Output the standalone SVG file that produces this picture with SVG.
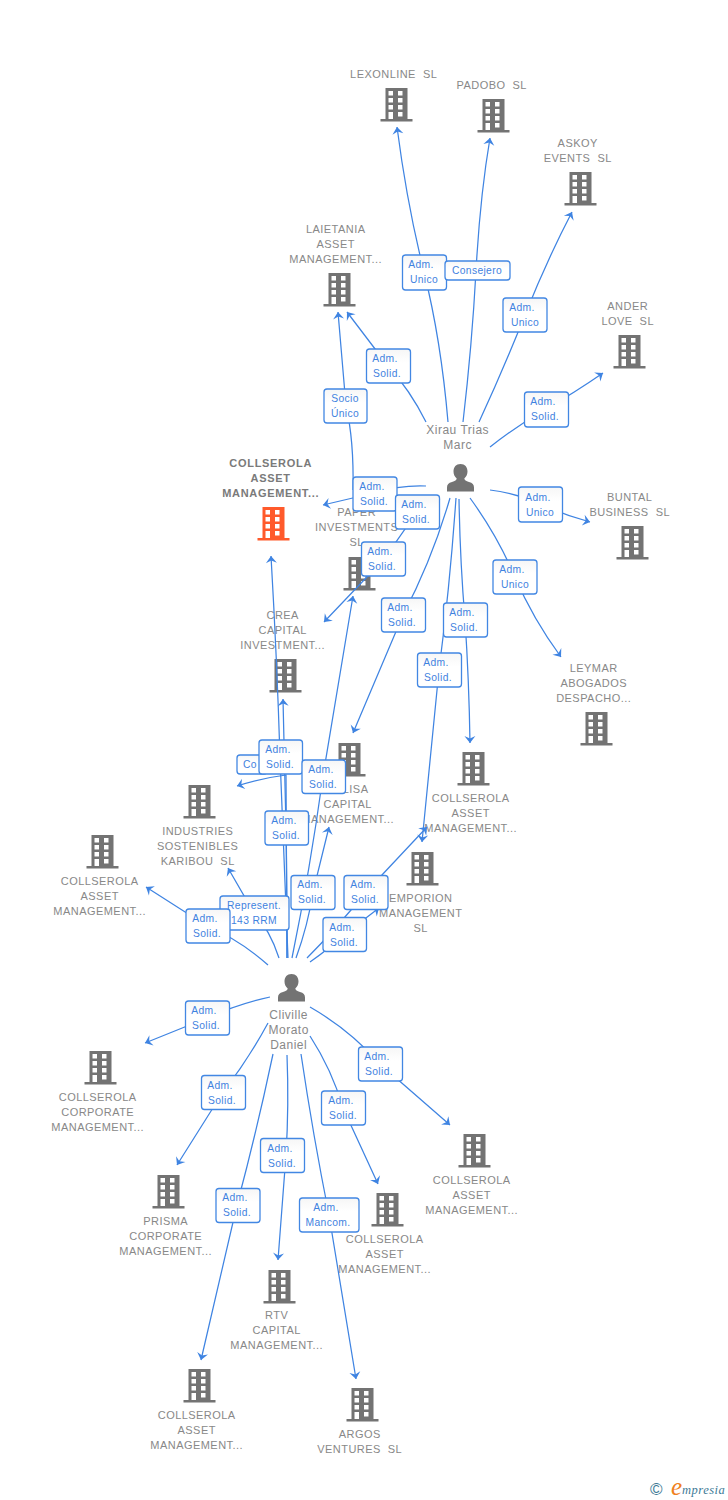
<svg xmlns="http://www.w3.org/2000/svg" width="728" height="1500" viewBox="0 0 728 1500">
<style>
text{font-family:"Liberation Sans",Arial,sans-serif;white-space:pre}
.n{font-size:11px;fill:#888;text-anchor:middle;letter-spacing:.45px;transform:translateX(.7px)}
.b{font-weight:bold;fill:#7a7a7a;letter-spacing:.7px}
.m{font-size:12px;letter-spacing:.5px}
.l{fill:url(#g);stroke:#4287e3;stroke-width:1.3}
.e{font-size:10.3px;fill:#3f82e0;text-anchor:middle;letter-spacing:.35px}
.c{fill:none;stroke:#3f84e2;stroke-width:1.25;marker-end:url(#a)}
#nodes use{transform:translateX(.5px)}
</style>
<defs>
<linearGradient id="g" x1="0" y1="0" x2="0" y2="1"><stop offset="0" stop-color="#f6f6f6"/><stop offset=".4" stop-color="#fff"/></linearGradient>
<marker id="a" markerUnits="userSpaceOnUse" markerWidth="14" markerHeight="14" viewBox="-10 -7 14 14" refX="0" refY="0" orient="auto"><path d="M-7,-5.500 L0,0 L-7,5.500 L-4.500,0 Z" fill="#3f84e2"/></marker>
<symbol id="h" overflow="visible"><path fill-rule="evenodd" d="M-11,0H11V31H16V33.500H-16V31H-11ZM-8,3V7.500H-3.500V3ZM1.500,3V7.500H6V3ZM-8,10V14.500H-3.500V10ZM1.500,10V14.500H6V10ZM-8,17V21.500H-3.500V17ZM1.500,17V21.500H6V17ZM-8,24V31H-3.500V24ZM1.500,24V28.500H6V24Z"/></symbol>
<symbol id="u" overflow="visible"><path d="M0,0C4.500,0 7,3 7,7.500C7,10.500 5.800,12.500 3.800,14.500C3.800,16 5.500,17 8.500,18C12,19 13.500,20.500 13.500,23.500V27.500H-13.500V23.500C-13.500,20.500 -12,19 -8.500,18C-5.500,17 -3.800,16 -3.800,14.500C-5.800,12.500 -7,10.500 -7,7.500C-7,3 -4.500,0 0,0Z"/></symbol>
</defs>
<rect width="728" height="1500" fill="#fff"/>

<g id="nodes" fill="#737373">
<g id="n-lexonline"><use href="#h" x="396" y="88"/><text class="n" x="393" y="78">LEXONLINE  SL</text></g>
<g id="n-padobo"><use href="#h" x="493" y="99"/><text class="n" x="491" y="89">PADOBO  SL</text></g>
<g id="n-askoy"><use href="#h" x="580" y="172"/><text class="n" x="577" y="147">ASKOY</text><text class="n" x="577" y="162">EVENTS  SL</text></g>
<g id="n-ander"><use href="#h" x="629" y="335"/><text class="n" x="627" y="310">ANDER</text><text class="n" x="627" y="325">LOVE  SL</text></g>
<g id="n-laietania"><use href="#h" x="339" y="273"/><text class="n" x="335" y="233">LAIETANIA</text><text class="n" x="335" y="248">ASSET</text><text class="n" x="335" y="263">MANAGEMENT...</text></g>
<g id="n-buntal"><use href="#h" x="632" y="526"/><text class="n" x="629" y="501">BUNTAL</text><text class="n" x="629" y="516">BUSINESS  SL</text></g>
<g id="n-main" fill="#ff5a2b"><use href="#h" x="273" y="507"/><text class="n b" x="270" y="467">COLLSEROLA</text><text class="n b" x="270" y="482">ASSET</text><text class="n b" x="270" y="497">MANAGEMENT...</text></g>
<g id="n-paper"><use href="#h" x="359" y="557"/><text class="n" x="356" y="516">PAPER</text><text class="n" x="356" y="531">INVESTMENTS</text><text class="n" x="356" y="546">SL</text></g>
<g id="n-crea"><use href="#h" x="285" y="659"/><text class="n" x="282" y="619">CREA</text><text class="n" x="282" y="634">CAPITAL</text><text class="n" x="282" y="649">INVESTMENT...</text></g>
<g id="n-leymar"><use href="#h" x="596" y="712"/><text class="n" x="593" y="672">LEYMAR</text><text class="n" x="593" y="687">ABOGADOS</text><text class="n" x="593" y="702">DESPACHO...</text></g>
<g id="n-elisa"><use href="#h" x="349" y="743"/><text class="n" x="351" y="793">ELISA</text><text class="n" x="347" y="808">CAPITAL</text><text class="n" x="347" y="823">MANAGEMENT...</text></g>
<g id="n-coll1"><use href="#h" x="473" y="752"/><text class="n" x="470" y="802">COLLSEROLA</text><text class="n" x="470" y="817">ASSET</text><text class="n" x="470" y="832">MANAGEMENT...</text></g>
<g id="n-industries"><use href="#h" x="199" y="785"/><text class="n" x="197" y="835">INDUSTRIES</text><text class="n" x="197" y="850">SOSTENIBLES</text><text class="n" x="197" y="865">KARIBOU  SL</text></g>
<g id="n-coll2"><use href="#h" x="102" y="835"/><text class="n" x="99" y="885">COLLSEROLA</text><text class="n" x="99" y="900">ASSET</text><text class="n" x="99" y="915">MANAGEMENT...</text></g>
<g id="n-emporion"><use href="#h" x="422" y="852"/><text class="n" x="420" y="902">EMPORION</text><text class="n" x="420" y="917">MANAGEMENT</text><text class="n" x="420" y="932">SL</text></g>
<g id="n-corp"><use href="#h" x="100" y="1051"/><text class="n" x="97" y="1101">COLLSEROLA</text><text class="n" x="97" y="1116">CORPORATE</text><text class="n" x="97" y="1131">MANAGEMENT...</text></g>
<g id="n-prisma"><use href="#h" x="168" y="1175"/><text class="n" x="165" y="1225">PRISMA</text><text class="n" x="165" y="1240">CORPORATE</text><text class="n" x="165" y="1255">MANAGEMENT...</text></g>
<g id="n-coll3"><use href="#h" x="474" y="1134"/><text class="n" x="471" y="1184">COLLSEROLA</text><text class="n" x="471" y="1199">ASSET</text><text class="n" x="471" y="1214">MANAGEMENT...</text></g>
<g id="n-coll4"><use href="#h" x="387" y="1193"/><text class="n" x="384" y="1243">COLLSEROLA</text><text class="n" x="384" y="1258">ASSET</text><text class="n" x="384" y="1273">MANAGEMENT...</text></g>
<g id="n-rtv"><use href="#h" x="279" y="1270"/><text class="n" x="276" y="1319">RTV</text><text class="n" x="276" y="1334">CAPITAL</text><text class="n" x="276" y="1349">MANAGEMENT...</text></g>
<g id="n-coll5"><use href="#h" x="199" y="1369"/><text class="n" x="196" y="1419">COLLSEROLA</text><text class="n" x="196" y="1434">ASSET</text><text class="n" x="196" y="1449">MANAGEMENT...</text></g>
<g id="n-argos"><use href="#h" x="362" y="1388"/><text class="n" x="359" y="1438">ARGOS</text><text class="n" x="359" y="1453">VENTURES  SL</text></g>
<g id="n-xirau"><use href="#u" x="460" y="464"/><text class="n m" x="457" y="434">Xirau Trias</text><text class="n m" x="457" y="449">Marc</text></g>
<g id="n-cliville"><use href="#u" x="291" y="974"/><text class="n m" x="288" y="1019">Cliville</text><text class="n m" x="288" y="1034">Morato</text><text class="n m" x="288" y="1049">Daniel</text></g>
</g>

<g id="connectors">
<path class="c" d="M448,422Q441,340 424,272T397,127"/>
<path class="c" d="M463,422Q472,345 476,271T490,138"/>
<path class="c" d="M479,422Q503,370 525,315T572,212"/>
<path class="c" d="M490,447Q518,425 546,409T603,373"/>
<path class="c" d="M490,490Q516,493 540,504T590,522"/>
<path class="c" d="M470,498Q497,535 515,577T561,657"/>
<path class="c" d="M459,499Q460,560 465,620Q469,680 470,743"/>
<path class="c" d="M456,498Q450,585 439,670L422,842"/>
<path class="c" d="M450,498Q432,560 403,615L353,733"/>
<path class="c" d="M426,422Q410,390 388,366L347,312"/>
<path class="c" d="M353,490Q354,440 346,406Q342,360 338,312"/>
<path class="c" d="M426,486Q400,485 374,493L323,505"/>
<path class="c" d="M440,499Q425,505 417,512L384,559L324,622"/>
<path class="c" d="M288,958Q284,860 280,757Q277,660 271,556"/>
<path class="c" d="M287,958Q287,890 286,828L283,699"/>
<path class="c" d="M287,958L286,775Q262,778 237,786"/>
<path class="c" d="M292,958Q310,870 323,776L353,596"/>
<path class="c" d="M296,958Q308,925 313,892L329,827"/>
<path class="c" d="M307,958Q335,930 366,892L427,827"/>
<path class="c" d="M310,962Q330,948 345,934L379,908"/>
<path class="c" d="M279,958Q270,930 254,913L228,868"/>
<path class="c" d="M268,965Q240,940 207,926L146,887"/>
<path class="c" d="M270,997Q238,1004 207,1018L145,1043"/>
<path class="c" d="M268,1023Q248,1060 223,1092L177,1165"/>
<path class="c" d="M287,1055Q289,1105 286,1155L278,1260"/>
<path class="c" d="M273,1054Q257,1130 237,1205L201,1360"/>
<path class="c" d="M301,1054Q313,1135 329,1215L356,1379"/>
<path class="c" d="M310,1036Q332,1070 343,1108L378,1184"/>
<path class="c" d="M310,1007Q350,1030 380,1064L450,1125"/>
</g>

<g id="edge-labels">
<rect class="l" x="402.500" y="255" width="44" height="35" rx="3"/><text class="e"><tspan x="421" y="268">Adm.</tspan><tspan x="424" y="283">Unico</tspan></text>
<rect class="l" x="445" y="261" width="65" height="19" rx="3"/><text class="e" x="477" y="274">Consejero</text>
<rect class="l" x="503" y="298" width="44" height="34" rx="3"/><text class="e"><tspan x="522" y="311">Adm.</tspan><tspan x="525" y="326">Unico</tspan></text>
<rect class="l" x="366.500" y="349" width="44" height="34" rx="3"/><text class="e"><tspan x="385" y="362">Adm.</tspan><tspan x="387" y="377">Solid.</tspan></text>
<rect class="l" x="524.500" y="392" width="44" height="35" rx="3"/><text class="e"><tspan x="543" y="405">Adm.</tspan><tspan x="545" y="420">Solid.</tspan></text>
<rect class="l" x="324" y="389" width="43" height="34" rx="3"/><text class="e"><tspan x="345" y="402">Socio</tspan><tspan x="345" y="417">Único</tspan></text>
<rect class="l" x="353" y="477" width="44" height="34" rx="3"/><text class="e"><tspan x="372" y="490">Adm.</tspan><tspan x="374" y="505">Solid.</tspan></text>
<rect class="l" x="395.500" y="495" width="44" height="34" rx="3"/><text class="e"><tspan x="414" y="508">Adm.</tspan><tspan x="416" y="523">Solid.</tspan></text>
<rect class="l" x="518.500" y="487" width="44" height="35" rx="3"/><text class="e"><tspan x="538" y="501">Adm.</tspan><tspan x="540" y="516">Unico</tspan></text>
<rect class="l" x="361.500" y="542" width="44" height="34" rx="3"/><text class="e"><tspan x="380" y="555">Adm.</tspan><tspan x="382" y="570">Solid.</tspan></text>
<rect class="l" x="493" y="560" width="44" height="34" rx="3"/><text class="e"><tspan x="512" y="573">Adm.</tspan><tspan x="515" y="588">Unico</tspan></text>
<rect class="l" x="381.500" y="598" width="44" height="34" rx="3"/><text class="e"><tspan x="400" y="611">Adm.</tspan><tspan x="402" y="626">Solid.</tspan></text>
<rect class="l" x="443.500" y="603" width="44" height="34" rx="3"/><text class="e"><tspan x="462" y="616">Adm.</tspan><tspan x="464" y="631">Solid.</tspan></text>
<rect class="l" x="417.500" y="653" width="44" height="34" rx="3"/><text class="e"><tspan x="436" y="666">Adm.</tspan><tspan x="438" y="681">Solid.</tspan></text>
<rect class="l" x="237" y="755" width="30" height="19" rx="3"/><text class="e" x="250" y="768">Co</text>
<rect class="l" x="259" y="740" width="43.500" height="34" rx="3"/><text class="e"><tspan x="278" y="753">Adm.</tspan><tspan x="280" y="768">Solid.</tspan></text>
<rect class="l" x="302" y="760" width="43.500" height="33.500" rx="3"/><text class="e"><tspan x="321" y="773">Adm.</tspan><tspan x="323" y="788">Solid.</tspan></text>
<rect class="l" x="265" y="811" width="43.500" height="34" rx="3"/><text class="e"><tspan x="284" y="824">Adm.</tspan><tspan x="286" y="839">Solid.</tspan></text>
<rect class="l" x="291" y="875.500" width="44" height="34" rx="3"/><text class="e"><tspan x="310" y="888">Adm.</tspan><tspan x="312" y="903">Solid.</tspan></text>
<rect class="l" x="344" y="875.500" width="44" height="34" rx="3"/><text class="e"><tspan x="363" y="888">Adm.</tspan><tspan x="365" y="903">Solid.</tspan></text>
<rect class="l" x="323" y="917.500" width="43.500" height="34" rx="3"/><text class="e"><tspan x="342" y="931">Adm.</tspan><tspan x="344" y="946">Solid.</tspan></text>
<rect class="l" x="220" y="896" width="69" height="34" rx="3"/><text class="e"><tspan x="254" y="909">Represent.</tspan><tspan x="254" y="924">143 RRM</tspan></text>
<rect class="l" x="186" y="909" width="44" height="34" rx="3"/><text class="e"><tspan x="205" y="922">Adm.</tspan><tspan x="207" y="937">Solid.</tspan></text>
<rect class="l" x="185.500" y="1001" width="44" height="34" rx="3"/><text class="e"><tspan x="204" y="1014">Adm.</tspan><tspan x="206" y="1029">Solid.</tspan></text>
<rect class="l" x="358.500" y="1047" width="44" height="34" rx="3"/><text class="e"><tspan x="377" y="1060">Adm.</tspan><tspan x="379" y="1075">Solid.</tspan></text>
<rect class="l" x="321.500" y="1091" width="44" height="34" rx="3"/><text class="e"><tspan x="341" y="1104">Adm.</tspan><tspan x="343" y="1119">Solid.</tspan></text>
<rect class="l" x="201.500" y="1075.500" width="44" height="34" rx="3"/><text class="e"><tspan x="220" y="1089">Adm.</tspan><tspan x="222" y="1104">Solid.</tspan></text>
<rect class="l" x="260.500" y="1138.500" width="44" height="34" rx="3"/><text class="e"><tspan x="280" y="1152">Adm.</tspan><tspan x="282" y="1167">Solid.</tspan></text>
<rect class="l" x="216" y="1188.500" width="44" height="34" rx="3"/><text class="e"><tspan x="235" y="1201">Adm.</tspan><tspan x="237" y="1216">Solid.</tspan></text>
<rect class="l" x="299.500" y="1198" width="59.500" height="34" rx="3"/><text class="e"><tspan x="326" y="1211">Adm.</tspan><tspan x="328" y="1226">Mancom.</tspan></text>
</g>

<g id="logo">
<text x="650" y="1495" font-size="17" fill="#3d7a96">©</text>
<text x="671" y="1495" font-size="25" font-style="italic" fill="#f08020" style="font-family:'Liberation Serif',serif">e</text>
<text x="682" y="1494" font-size="12.500" font-style="italic" fill="#3d7a96" letter-spacing=".5" style="font-family:'Liberation Serif',serif">mpresia</text>
</g>
</svg>
